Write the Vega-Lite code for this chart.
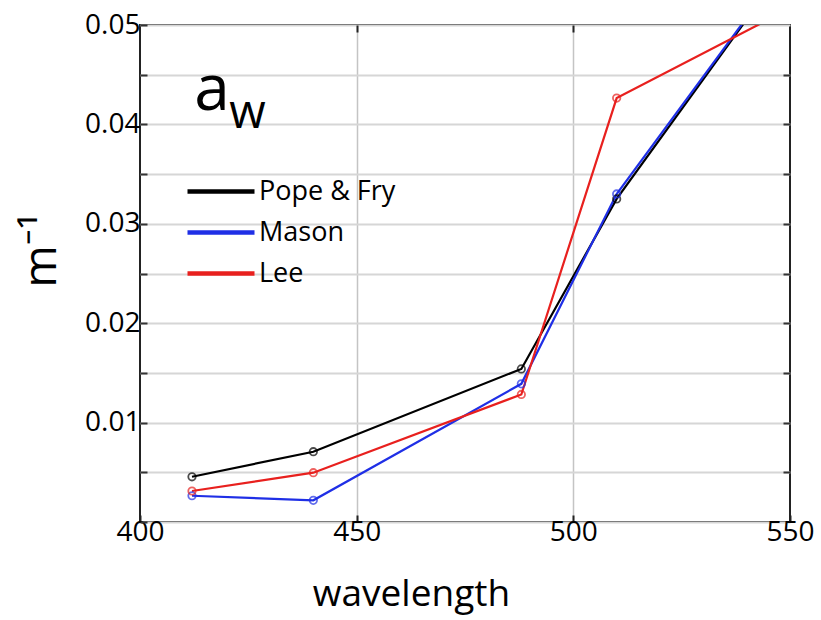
{
  "$schema": "https://vega.github.io/schema/vega-lite/v6.json",
  "width": 650,
  "height": 497,
  "autosize": {"type": "none"},
  "padding": {"left": 140, "top": 25, "right": 31, "bottom": 98},
  "background": "white",
  "config": {
    "font": "Open Sans",
    "view": {"stroke": "#222222", "strokeWidth": 2},
    "axis": {"domain": false, "labelColor": "#000000", "titleColor": "#000000", "titleFontWeight": "normal", "labelFlush": false}
  },
  "datasets": {
    "series": [
      {"source": "Pope & Fry", "wavelength": 412, "value": 0.00455},
      {"source": "Pope & Fry", "wavelength": 440, "value": 0.00707},
      {"source": "Pope & Fry", "wavelength": 488, "value": 0.0154},
      {"source": "Pope & Fry", "wavelength": 510, "value": 0.0325},
      {"source": "Pope & Fry", "wavelength": 555, "value": 0.0596},
      {"source": "Mason", "wavelength": 412, "value": 0.00264},
      {"source": "Mason", "wavelength": 440, "value": 0.00218},
      {"source": "Mason", "wavelength": 488, "value": 0.0139},
      {"source": "Mason", "wavelength": 510, "value": 0.033},
      {"source": "Mason", "wavelength": 555, "value": 0.0596},
      {"source": "Lee", "wavelength": 412, "value": 0.00312},
      {"source": "Lee", "wavelength": 440, "value": 0.00496},
      {"source": "Lee", "wavelength": 488, "value": 0.01283},
      {"source": "Lee", "wavelength": 510, "value": 0.04265},
      {"source": "Lee", "wavelength": 555, "value": 0.0528}
    ],
    "annoA": [{"wavelength": 412.5, "value": 0.0414, "label": "a"}],
    "annoW": [{"wavelength": 420.6, "value": 0.0396, "label": "w"}]
  },
  "layer": [
    {
      "data": {"name": "series"},
      "mark": {"type": "line", "clip": true, "strokeWidth": 2.2},
      "encoding": {
        "x": {
          "field": "wavelength", "type": "quantitative",
          "scale": {"domain": [400, 550], "nice": false, "zero": false},
          "axis": {
            "orient": "bottom", "values": [400, 450, 500, 550],
            "grid": false,
            "tickSize": -7, "tickColor": "#222222", "tickWidth": 2,
            "labelFontSize": 28, "labelPadding": 3,
            "title": "wavelength", "titleFontSize": 37,
            "titleX": 271, "titleY": 83, "titleAlign": "center", "titleBaseline": "alphabetic"
          }
        },
        "y": {
          "field": "value", "type": "quantitative",
          "scale": {"domain": [0, 0.05], "nice": false, "zero": false},
          "axis": {
            "orient": "left",
            "values": [0, 0.005, 0.01, 0.015, 0.02, 0.025, 0.03, 0.035, 0.04, 0.045, 0.05],
            "labelExpr": "(round(datum.value*1000) % 10 == 0 && datum.value > 0) ? format(datum.value, '.2f') : ''",
            "grid": true, "gridColor": "#d6d6d6", "gridWidth": 2,
            "tickSize": -7, "tickColor": "#333333", "tickWidth": 2,
            "labelFontSize": 28, "labelPadding": 7,
            "title": "m⁻¹", "titleFontSize": 46, "titleAngle": 270,
            "titleX": -85, "titleY": 225, "titleAlign": "center", "titleBaseline": "alphabetic"
          }
        },
        "color": {
          "field": "source", "type": "nominal",
          "scale": {"domain": ["Pope & Fry", "Mason", "Lee"], "range": ["#000000", "#1f2fe6", "#e8201e"]},
          "legend": {
            "orient": "none", "legendX": 45, "legendY": 147, "title": null,
            "symbolType": "stroke", "symbolSize": 4489, "symbolStrokeWidth": 4.5,
            "labelFontSize": 27, "labelOffset": 2, "labelColor": "#000000",
            "clipHeight": 39, "rowPadding": 2, "padding": 0
          }
        }
      }
    },
    {
      "data": {"name": "series"},
      "mark": {"type": "point", "clip": true, "filled": false, "size": 55, "strokeWidth": 1.8},
      "encoding": {
        "x": {
          "field": "wavelength", "type": "quantitative",
          "axis": {"orient": "top", "values": [450, 500], "labels": false, "grid": true, "gridColor": "#c4c4c4", "gridWidth": 1.5, "tickSize": -7, "tickColor": "#222222", "tickWidth": 2, "title": null}
        },
        "y": {
          "field": "value", "type": "quantitative",
          "axis": {"orient": "right", "values": [0.005, 0.01, 0.015, 0.02, 0.025, 0.03, 0.035, 0.04, 0.045], "labels": false, "grid": false, "tickSize": -7, "tickColor": "#333333", "tickWidth": 2, "title": null}
        },
        "color": {"field": "source", "type": "nominal", "legend": null}
      }
    },
    {
      "data": {"name": "annoA"},
      "mark": {"type": "text", "fontSize": 64, "align": "left", "baseline": "alphabetic", "color": "#000000"},
      "encoding": {
        "x": {"field": "wavelength", "type": "quantitative", "axis": null},
        "y": {"field": "value", "type": "quantitative", "axis": null},
        "text": {"field": "label"}
      }
    },
    {
      "data": {"name": "annoW"},
      "mark": {"type": "text", "fontSize": 47, "align": "left", "baseline": "alphabetic", "color": "#000000"},
      "encoding": {
        "x": {"field": "wavelength", "type": "quantitative", "axis": null},
        "y": {"field": "value", "type": "quantitative", "axis": null},
        "text": {"field": "label"}
      }
    }
  ],
  "resolve": {"axis": {"x": "independent", "y": "independent"}}
}
